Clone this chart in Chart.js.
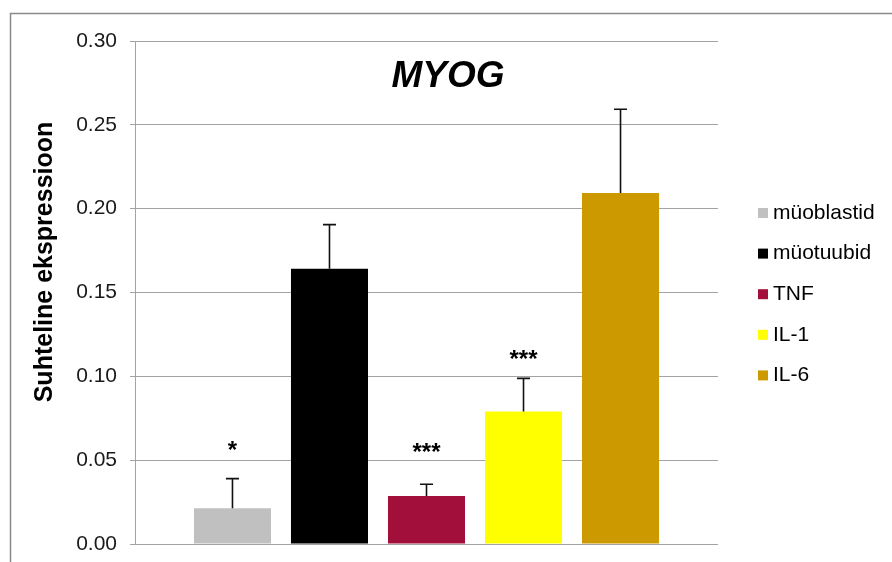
<!DOCTYPE html>
<html lang="et">
<head>
<meta charset="utf-8">
<title>MYOG</title>
<script src="https://cdn.jsdelivr.net/npm/chart.js@4.4.1/dist/chart.umd.min.js"></script>
<style>
  html, body { margin: 0; padding: 0; background: #fff; }
  #wrap { width: 892px; height: 562px; }
</style>
</head>
<body>
<div id="wrap"><canvas id="chartMyog" width="892" height="562"></canvas></div>
<script>
/* ---------- andmed ---------- */
const grupid    = ['müoblastid', 'müotuubid', 'TNF', 'IL-1', 'IL-6'];
const keskmised = [0.0213, 0.1642, 0.0287, 0.0790, 0.2093];
const vead      = [0.0177, 0.0263, 0.0069, 0.0198, 0.0500];
const tarnid    = ['*', '', '***', '***', ''];
const varvid    = ['#c0c0c0', '#000000', '#a30f3b', '#ffff00', '#cc9900'];
const yTicks    = [0, 0.05, 0.10, 0.15, 0.20, 0.25, 0.30];

const FONT = '"Liberation Sans", Arial, sans-serif';
const GRID = '#a3a3a3';

/* ---------- raam, pealkiri, telje nimi, legend ---------- */
const kaunistus = {
  id: 'kaunistus',
  beforeDraw(chart) {
    const ctx = chart.ctx;
    ctx.save();
    ctx.strokeStyle = '#8a8a8a';
    ctx.lineWidth = 1.5;
    ctx.beginPath();
    ctx.moveTo(10.5, chart.height);
    ctx.lineTo(10.5, 13.5);
    ctx.lineTo(chart.width, 13.5);
    ctx.stroke();
    ctx.restore();
  },
  afterDraw(chart) {
    const ctx = chart.ctx;
    ctx.save();
    ctx.fillStyle = '#000';

    // pealkiri
    ctx.font = 'italic bold 37px ' + FONT;
    ctx.textAlign = 'center';
    ctx.textBaseline = 'alphabetic';
    ctx.fillText('MYOG', 448, 87);

    // y-telje nimi
    ctx.save();
    ctx.translate(45, 262);
    ctx.rotate(-Math.PI / 2);
    ctx.font = 'bold 25px ' + FONT;
    ctx.textBaseline = 'middle';
    ctx.fillText('Suhteline ekspressioon', 0, 0);
    ctx.restore();

    // legend
    ctx.font = '21px ' + FONT;
    ctx.textAlign = 'left';
    ctx.textBaseline = 'middle';
    chart.data.datasets.forEach((ds, i) => {
      const y = 213 + i * 40.6;
      ctx.fillStyle = ds.backgroundColor;
      ctx.fillRect(758, y - 5, 10, 10);
      ctx.fillStyle = '#000';
      ctx.fillText(ds.label, 773, y);
    });
    ctx.restore();
  }
};

/* ---------- veapiirid ja olulisuse tärnid ---------- */
const veapiirid = {
  id: 'veapiirid',
  afterDatasetsDraw(chart, args, opts) {
    const ctx = chart.ctx;
    const y = chart.scales.y;
    ctx.save();
    chart.data.datasets.forEach((ds, i) => {
      const el = chart.getDatasetMeta(i).data[0];
      if (!el) return;
      const top = y.getPixelForValue(ds.data[0] + vead[i]);
      ctx.strokeStyle = '#111';
      ctx.lineWidth = 1.6;
      ctx.beginPath();
      ctx.moveTo(el.x, el.y);
      ctx.lineTo(el.x, top);
      ctx.moveTo(el.x - 6.5, top);
      ctx.lineTo(el.x + 6.5, top);
      ctx.stroke();

      if (tarnid[i]) {
        ctx.fillStyle = '#000';
        ctx.font = 'bold 24px ' + FONT;
        ctx.textAlign = 'center';
        ctx.textBaseline = 'alphabetic';
        // tärni keskkoht ~0.57em baasjoonest kõrgemal
        ctx.fillText(tarnid[i], el.x, top - opts.nihked[i] + 0.57 * 24);
      }
    });
    ctx.restore();
  }
};

/* ---------- graafik ---------- */
new Chart(document.getElementById('chartMyog'), {
  type: 'bar',
  data: {
    labels: [''],
    datasets: grupid.map((g, i) => ({
      label: g,
      data: [keskmised[i]],
      backgroundColor: varvid[i],
      borderWidth: 0,
      categoryPercentage: 0.832,
      barPercentage: 0.794
    }))
  },
  options: {
    responsive: false,
    devicePixelRatio: 1,
    animation: false,
    layout: { padding: { left: 0, right: 174, top: 41, bottom: 18 } },
    plugins: {
      legend: { display: false },
      tooltip: { enabled: false },
      veapiirid: { nihked: [34, 0, 38, 25, 0] }
    },
    scales: {
      x: { display: false },
      y: {
        min: 0,
        max: 0.30,
        afterBuildTicks: s => { s.ticks = yTicks.map(v => ({ value: v })); },
        afterFit: s => { s.width = 135; s.paddingTop = 0; s.paddingBottom = 0; },
        grid: { color: GRID, lineWidth: 1, tickLength: 5, tickColor: GRID },
        border: { color: GRID, width: 1 },
        ticks: {
          padding: 13,
          color: '#1a1a1a',
          font: { family: FONT, size: 21 },
          callback: v => Number(v).toFixed(2)
        }
      }
    }
  },
  plugins: [kaunistus, veapiirid]
});
</script>
</body>
</html>
